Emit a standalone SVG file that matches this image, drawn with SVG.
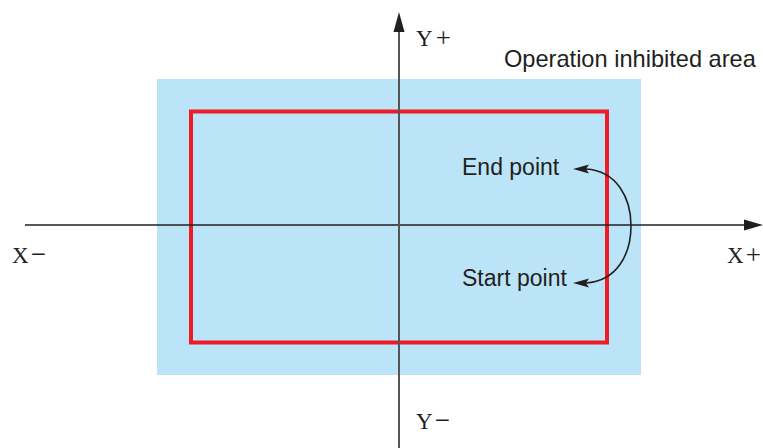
<svg xmlns="http://www.w3.org/2000/svg" width="763" height="448" viewBox="0 0 763 448">
  <style>
    .sans { font-family: "Liberation Sans", Arial, sans-serif; font-size: 23px; fill: #231f20; }
    .serif { font-family: "Liberation Serif", "Times New Roman", serif; font-size: 23px; fill: #231f20; }
    .sign { font-size: 27px; }
    .head { fill: #231f20; stroke: none; }
  </style>
  <rect width="763" height="448" fill="#ffffff"/>
  <g id="inhibited-area">
    <rect x="157" y="79" width="484" height="296" fill="#bce4f8"/>
    <text class="sans" x="504" y="67" style="font-size:23.6px">Operation inhibited area</text>
  </g>
  <g id="operation-area">
    <rect x="191" y="111.5" width="416" height="231" fill="none" stroke="#ee1c25" stroke-width="4"/>
  </g>
  <g id="connectors">
    <line x1="25" y1="225" x2="746" y2="225" stroke="#231f20" stroke-width="1.6"/>
    <polygon class="head" points="763,225 744,219.5 744,230.5"/>
    <line x1="399" y1="30" x2="399" y2="448" stroke="#555555" stroke-width="2"/>
    <polygon class="head" points="399,12 393.5,32 404.5,32"/>
    <path d="M 586 169 C 617 171, 631 198, 631 226 C 631 254, 617 281, 586 283" fill="none" stroke="#231f20" stroke-width="1.6"/>
    <polygon class="head" points="573,169 589,164.5 586,169 589,173.5"/>
    <polygon class="head" points="573,283 589,278.5 586,283 589,287.5"/>
  </g>
  <g id="labels">
    <text class="serif" x="416" y="46">Y<tspan class="sign" dx="3" dy="1">+</tspan></text>
    <text class="serif" x="416" y="429">Y<tspan class="sign" dx="2">−</tspan></text>
    <text class="serif" x="12" y="262.5">X<tspan class="sign" dx="2">−</tspan></text>
    <text class="serif" x="727" y="262.5">X<tspan class="sign" dx="2" dy="1">+</tspan></text>
    <text class="sans" x="462" y="175">End point</text>
    <text class="sans" x="462" y="286">Start point</text>
  </g>
</svg>
